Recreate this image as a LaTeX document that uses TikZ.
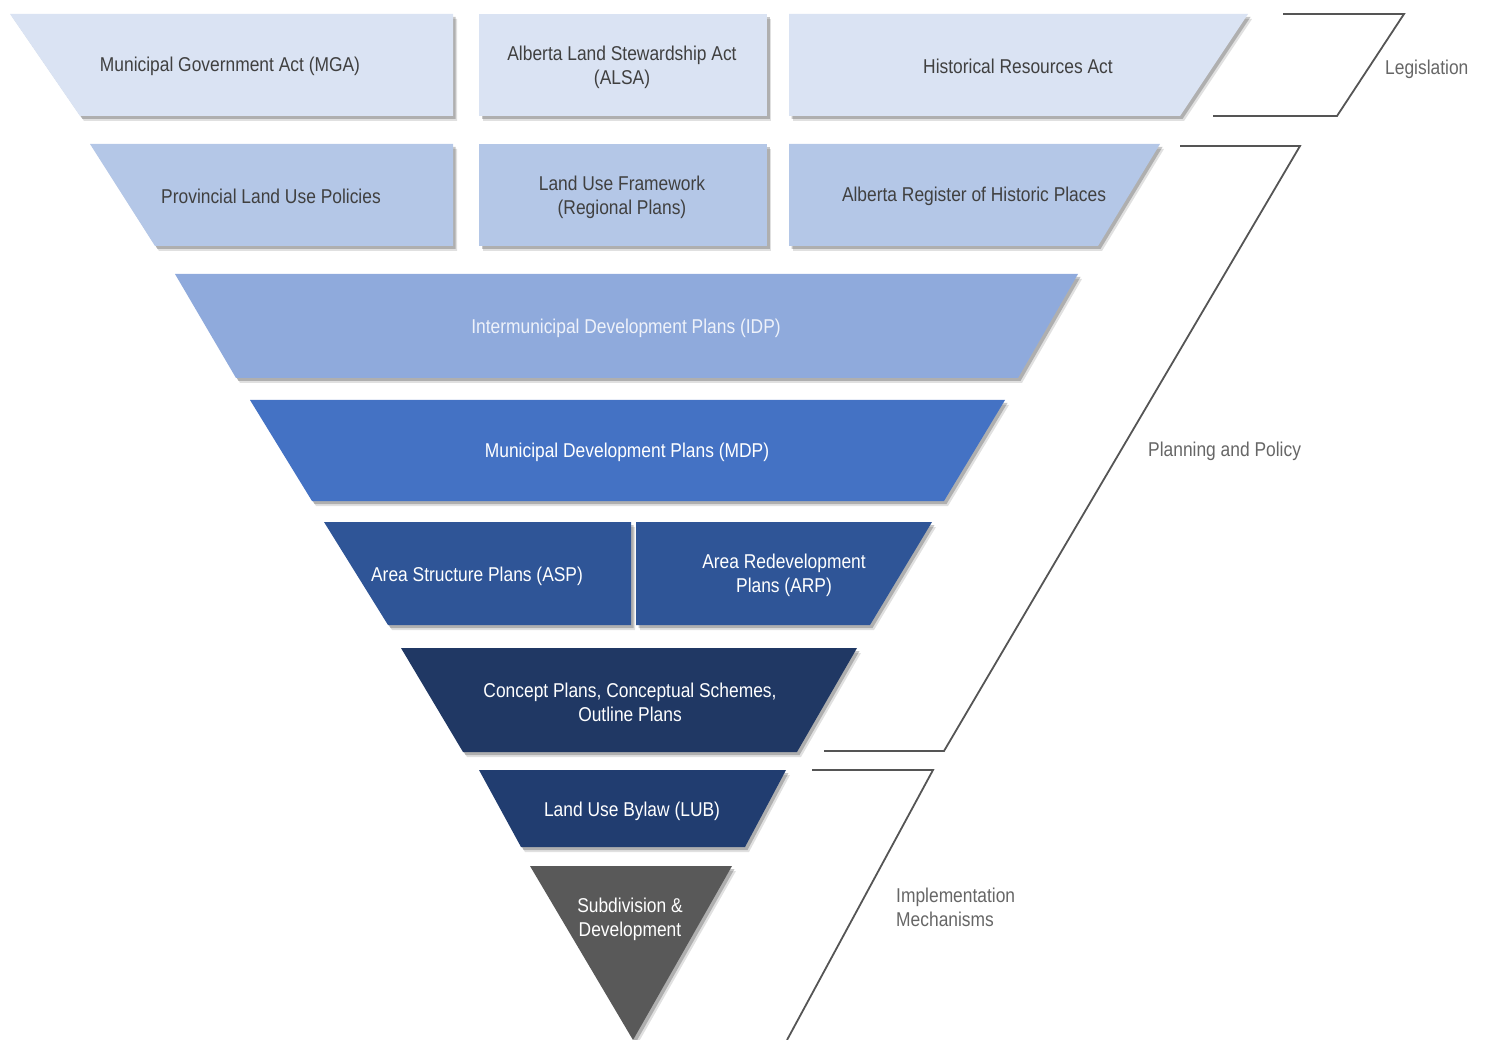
\documentclass[tikz,border=0pt]{standalone}
\usepackage{fontspec}
\setmainfont{Liberation Sans}[FakeStretch=0.87]
\usetikzlibrary{shadows}
\definecolor{cA}{HTML}{DAE3F3}
\definecolor{cB}{HTML}{B4C7E7}
\definecolor{cC}{HTML}{8FAADC}
\definecolor{cD}{HTML}{4472C4}
\definecolor{cE}{HTML}{2F5597}
\definecolor{cF}{HTML}{203864}
\definecolor{cG}{HTML}{213D70}
\definecolor{cH}{HTML}{595959}
\definecolor{txtdark}{HTML}{404040}
\definecolor{txtlight}{HTML}{EEF2FA}
\definecolor{brk}{HTML}{555555}
\definecolor{brktxt}{HTML}{666666}
\begin{document}
\begin{tikzpicture}[x=1pt,y=-1pt,
  band/.style={drop shadow={shadow xshift=4pt,shadow yshift=-5pt,opacity=0.12,fill=black},
               drop shadow={shadow xshift=2.5pt,shadow yshift=-3pt,opacity=0.22,fill=black}},
  lbl/.style={align=center,font=\fontsize{20}{24}\selectfont,inner sep=0pt},
  darklbl/.style={lbl,text=txtdark},
  lightlbl/.style={lbl,text=white},
  bracketline/.style={draw=brk,line width=1.8pt,line join=miter},
  bracketlbl/.style={font=\fontsize{20}{24}\selectfont,text=brktxt,anchor=west,align=left,inner sep=0pt}]
\useasboundingbox (0,0) rectangle (1486,1040);
% Row 1
\fill[cA,band] (10,14) -- (453,14) -- (453,116) -- (80,116) -- cycle;
\fill[cA,band] (479,14) -- (767,14) -- (767,116) -- (479,116) -- cycle;
\fill[cA,band] (789,14) -- (1248,14) -- (1180,116) -- (789,116) -- cycle;
\node[darklbl] (mga) at (230,66) {Municipal Government Act (MGA)};
\node[darklbl] (alsa) at (622,67) {Alberta Land Stewardship Act\\(ALSA)};
\node[darklbl] (hra) at (1018,66) {Historical Resources Act};
% Row 2
\fill[cB,band] (90,144) -- (453,144) -- (453,246) -- (155,246) -- cycle;
\fill[cB,band] (479,144) -- (767,144) -- (767,246) -- (479,246) -- cycle;
\fill[cB,band] (789,144) -- (1160,144) -- (1098,246) -- (789,246) -- cycle;
\node[darklbl] (plup) at (271,196) {Provincial Land Use Policies};
\node[darklbl] (luf) at (622,197) {Land Use Framework\\(Regional Plans)};
\node[darklbl] (arhp) at (974,196) {Alberta Register of Historic Places};
% Row 3
\fill[cC,band] (175,274) -- (1078,274) -- (1018,378) -- (236,378) -- cycle;
\node[lbl,text=txtlight] (idp) at (626,328) {Intermunicipal Development Plans (IDP)};
% Row 4
\fill[cD,band] (250,400) -- (1005,400) -- (944,501) -- (312,501) -- cycle;
\node[lightlbl] (mdp) at (627,452) {Municipal Development Plans (MDP)};
% Row 5
\fill[cE,band] (324,522) -- (631,522) -- (631,625) -- (388,625) -- cycle;
\fill[cE,band] (636,522) -- (932,522) -- (870,625) -- (636,625) -- cycle;
\node[lightlbl] (asp) at (477,576) {Area Structure Plans (ASP)};
\node[lightlbl] (arp) at (784,575) {Area Redevelopment\\Plans (ARP)};
% Row 6
\fill[cF,band] (401,648) -- (857,648) -- (797,752) -- (463,752) -- cycle;
\node[lightlbl] (concept) at (630,702) {Concept Plans, Conceptual Schemes,\\Outline Plans};
% Row 7
\fill[cG,band] (479,770) -- (786,770) -- (745,847) -- (521,847) -- cycle;
\node[lightlbl] (lub) at (632,811) {Land Use Bylaw (LUB)};
% Row 8
\fill[cH,band] (530,866) -- (732,866) -- (633,1040) -- cycle;
\node[lightlbl] (sub) at (630,919) {Subdivision \&\\Development};
% Brackets
\coordinate (l1) at (1283,14); \coordinate (l2) at (1404,14);
\coordinate (l3) at (1337,116); \coordinate (l4) at (1213,116);
\draw[bracketline] (l1) -- (l2) -- (l3) -- (l4);
\node[bracketlbl] (leg) at (1385,69) {Legislation};
\coordinate (p1) at (1180,146); \coordinate (p2) at (1300,146);
\coordinate (p3) at (944,751); \coordinate (p4) at (824,751);
\draw[bracketline] (p1) -- (p2) -- (p3) -- (p4);
\node[bracketlbl] (pp) at (1148,451) {Planning and Policy};
\coordinate (i1) at (812,770); \coordinate (i2) at (933,770);
\coordinate (i3) at (787,1040);
\draw[bracketline] (i1) -- (i2) -- (i3);
\node[bracketlbl] (impl) at (896,907) {Implementation\\Mechanisms};
\end{tikzpicture}
\end{document}
